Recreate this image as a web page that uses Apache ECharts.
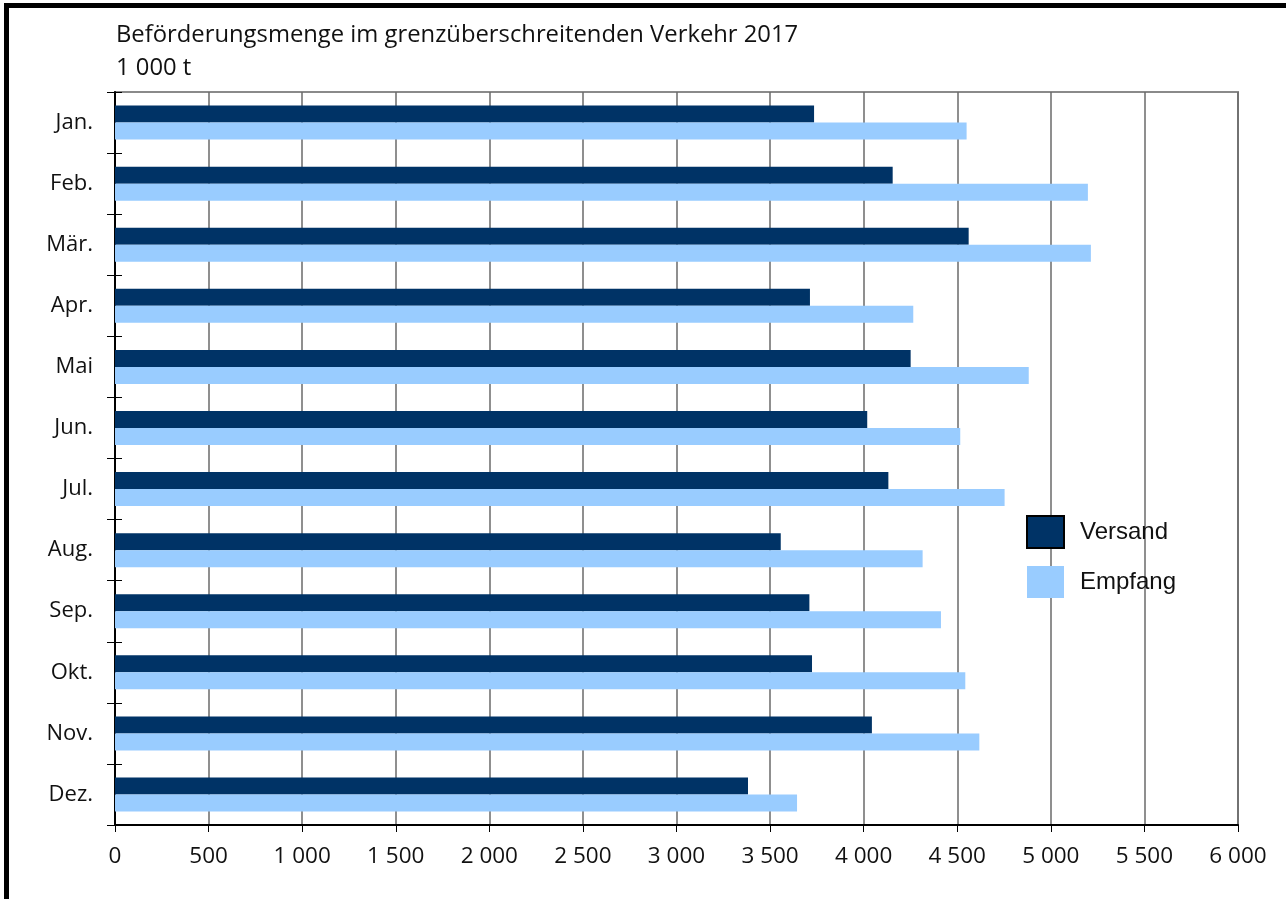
<!DOCTYPE html>
<html>
<head>
<meta charset="utf-8">
<style>
  html, body { margin: 0; padding: 0; background: #fff; }
  #chart { width: 1286px; height: 899px; }
</style>
<script src="https://cdn.jsdelivr.net/npm/echarts@6/dist/echarts.min.js"></script>
</head>
<body>
<div id="chart"></div>
<script>
// Monthly cross-border freight volume 2017, in 1 000 t
const months = ['Jan.', 'Feb.', 'Mär.', 'Apr.', 'Mai', 'Jun.', 'Jul.', 'Aug.', 'Sep.', 'Okt.', 'Nov.', 'Dez.'];
const versand = [3735, 4155, 4561, 3713, 4251, 4019, 4132, 3557, 3710, 3724, 4044, 3382];
const empfang = [4550, 5198, 5214, 4265, 4882, 4516, 4753, 4315, 4413, 4543, 4618, 3644];
const titleLines = ['Beförderungsmenge im grenzüberschreitenden Verkehr 2017', '1 000 t'];

const FONT = '"Open Sans", "Noto Sans", sans-serif';

// thousands separated by a space, e.g. 1 000
function fmt(v) {
  return String(v).replace(/\B(?=(\d{3})+(?!\d))/g, ' ');
}

const chart = echarts.init(document.getElementById('chart'), null, { renderer: 'canvas' });

chart.setOption({
  animation: false,
  backgroundColor: '#ffffff',
  title: {
    text: titleLines.join('\n'),
    left: 116,
    top: 19,
    padding: 0,
    textStyle: {
      fontFamily: FONT,
      fontSize: 23.8,
      fontWeight: 'normal',
      color: '#111',
      lineHeight: 33
    }
  },
  graphic: [{
    type: 'rect',
    z: 100,
    silent: true,
    shape: { x: 6.5, y: 5.5, width: 1400, height: 1000 },
    style: { fill: 'none', stroke: '#000', lineWidth: 5 }
  }],
  legend: {
    orient: 'vertical',
    left: 1026,
    top: 515,
    padding: 0,
    itemWidth: 37,
    itemHeight: 32,
    itemGap: 17,
    icon: 'rect',
    selectedMode: false,
    textStyle: {
      fontFamily: '"Liberation Sans", Arial, sans-serif',
      fontSize: 24,
      color: '#111',
      padding: [0, 0, 0, 11]
    },
    data: [
      { name: 'Versand', itemStyle: { borderColor: '#000', borderWidth: 2 } },
      { name: 'Empfang' }
    ]
  },
  grid: {
    left: 115,
    right: 48,
    top: 92,
    bottom: 74,
    show: true,
    borderColor: '#8a8a8a',
    borderWidth: 2,
    containLabel: false
  },
  xAxis: {
    type: 'value',
    min: 0,
    max: 6000,
    interval: 500,
    axisLine: { show: true, lineStyle: { color: '#000', width: 2 } },
    axisTick: { show: true, length: 7, lineStyle: { color: '#000', width: 1 } },
    axisLabel: {
      formatter: fmt,
      fontFamily: FONT,
      fontSize: 22.5,
      color: '#111',
      margin: 20
    },
    splitLine: { show: true, lineStyle: { color: '#6a6a6a', width: 1.5 } }
  },
  yAxis: [{
    type: 'category',
    data: months,
    inverse: true,
    axisLine: { show: true, lineStyle: { color: '#000', width: 2 } },
    axisTick: { show: true, length: 8, lineStyle: { color: '#000', width: 1 } },
    axisLabel: {
      fontFamily: FONT,
      fontSize: 22,
      color: '#111',
      margin: 22
    },
    splitLine: { show: false }
  }, {
    // inner half of the crossing category ticks
    type: 'category',
    data: months,
    inverse: true,
    position: 'left',
    axisLine: { show: false },
    axisTick: { show: true, inside: true, length: 7, lineStyle: { color: '#000', width: 1 } },
    axisLabel: { show: false },
    splitLine: { show: false }
  }],
  series: [{
    name: 'Versand',
    type: 'bar',
    yAxisIndex: 0,
    data: versand,
    barWidth: 17,
    barGap: '0%',
    itemStyle: { color: '#003366' }
  }, {
    name: 'Empfang',
    type: 'bar',
    yAxisIndex: 0,
    data: empfang,
    barWidth: 17,
    barGap: '0%',
    itemStyle: { color: '#99ccff' }
  }]
});
</script>
</body>
</html>
